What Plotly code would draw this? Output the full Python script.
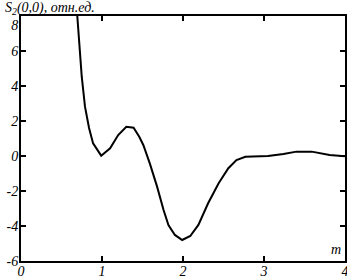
import plotly.graph_objects as go

m_vals = [0.695, 0.75, 0.79, 0.84, 0.89, 0.99, 1.10, 1.20, 1.30, 1.39, 1.46, 1.51, 1.59, 1.68, 1.76, 1.82, 1.90, 1.99,
          2.09, 2.19, 2.31, 2.44, 2.56, 2.66, 2.77, 2.90, 3.05, 3.24, 3.40, 3.59, 3.73, 3.81, 3.96, 4.0]
s_vals = [8.0, 4.53, 2.82, 1.6, 0.72, 0.02, 0.44, 1.2, 1.67, 1.62, 1.1, 0.63, -0.42, -1.75, -3.09, -3.94, -4.51, -4.8,
          -4.57, -3.94, -2.7, -1.56, -0.70, -0.23, -0.04, -0.02, 0.0, 0.11, 0.25, 0.25, 0.11, 0.06, 0.0, -0.02]

x_ticks = [0, 1, 2, 3, 4]
y_ticks = [-6, -4, -2, 0, 2, 4, 6, 8]
title_text = "S<sub>2</sub>(0,0), отн.ед."
x_label = "m"

font = dict(family="Liberation Serif, Times New Roman, serif", size=14, color="black")

fig = go.Figure()
fig.add_trace(go.Scatter(x=m_vals, y=s_vals, mode="lines",
                         line=dict(color="black", width=2), showlegend=False))

axis_common = dict(showline=True, linecolor="black", linewidth=2, mirror="ticks",
                   ticks="inside", ticklen=5, tickwidth=2, tickcolor="black",
                   showgrid=False, zeroline=False, tickfont=font, automargin=False,
                   ticklabeloverflow="allow")
y_text = [f"<i>{v}</i>" for v in y_ticks]
y_text[-1] = "&nbsp;<br>" + y_text[-1]
fig.update_xaxes(range=[0, 4], tickvals=x_ticks, ticktext=[f"<i>{v}</i>" for v in x_ticks],
                 ticklabelstandoff=-4, **axis_common)
fig.update_yaxes(range=[-6, 8], tickvals=y_ticks, ticktext=y_text, ticklabelstandoff=-2, **axis_common)

fig.add_annotation(text=f"<i>{title_text}</i>", xref="paper", yref="paper", x=-0.057, y=1.0,
                   xanchor="left", yanchor="bottom", showarrow=False, font=font, yshift=-3)
fig.add_annotation(text=f"<i>{x_label}</i>", xref="paper", yref="paper", x=0.995, y=0.0,
                   xanchor="right", yanchor="bottom", showarrow=False, font=font, yshift=2)

fig.update_layout(width=347, height=279, margin=dict(l=21, r=2, t=16, b=18),
                  plot_bgcolor="white", paper_bgcolor="white", font=font)
fig.write_html("out.html", config={"displayModeBar": False, "staticPlot": True},
               post_script="document.body.style.margin='0';document.body.style.overflow='hidden';")
